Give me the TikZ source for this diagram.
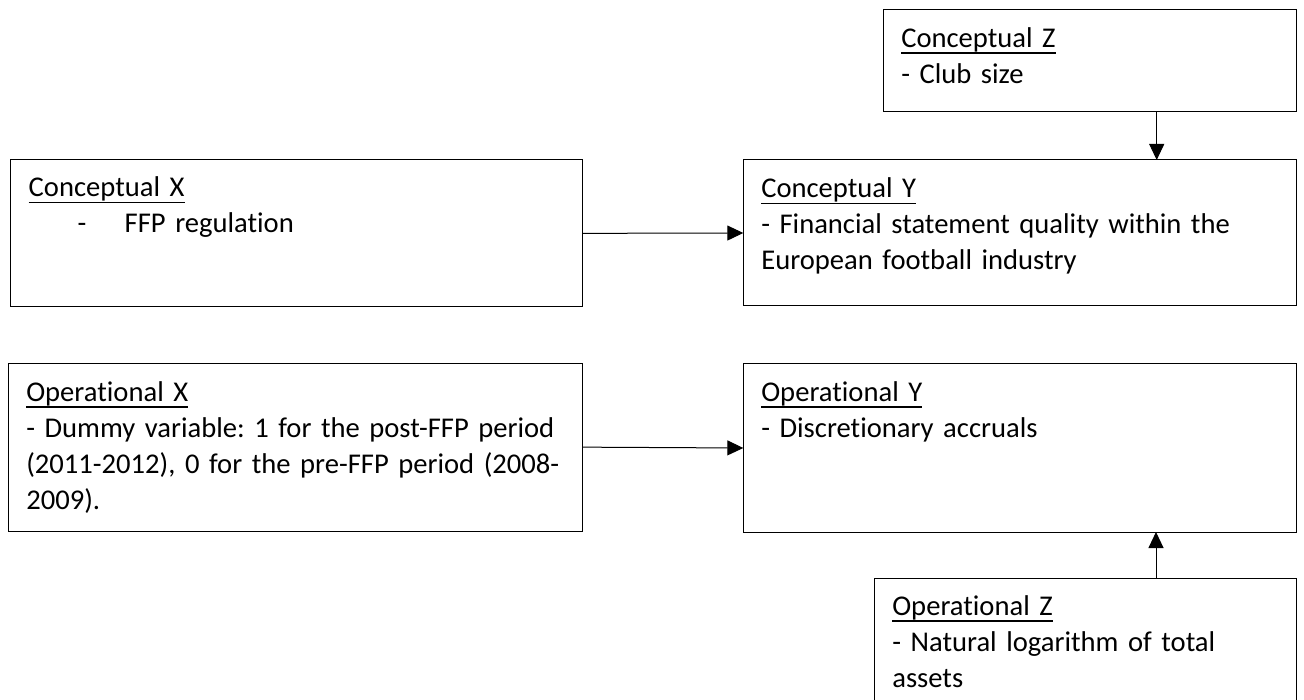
\documentclass[tikz,border=0pt]{standalone}
\usepackage{fontspec}
\setmainfont{Carlito}[Ligatures={NoCommon}]
\usetikzlibrary{arrows.meta,calc}
\frenchspacing
\newcommand\myul[1]{\setbox0\hbox{#1}\rlap{\rule[-6.5pt]{\wd0}{1.5pt}}\box0}
\tikzset{
  box/.style={draw=black, line width=1pt, inner sep=0pt, outer sep=0pt, anchor=north west, rectangle},
  txt/.style={anchor=base west, inner sep=0pt, outer sep=0pt, align=left, font=\fontsize{28.6}{36}\selectfont\frenchspacing},
  arr/.style={-{Triangle[length=16pt,width=15pt]}, line width=1pt, draw=black}
}
\begin{document}
\begin{tikzpicture}[x=1pt,y=-1pt]
\useasboundingbox (0,0) rectangle (1304,700);
\clip (0,0) rectangle (1304,700);
% boxes
\node[box, minimum width=413.4pt, minimum height=102.4pt] (cz) at (883.3,9.3) {};
\node[box, minimum width=572pt, minimum height=146.7pt] (cx) at (10.7,160) {};
\node[box, minimum width=553.4pt, minimum height=146pt] (cy) at (743.3,160) {};
\node[box, minimum width=574.4pt, minimum height=167.7pt] (ox) at (8.3,363.3) {};
\node[box, minimum width=553.4pt, minimum height=168pt] (oy) at (743.3,364) {};
\node[box, minimum width=422.4pt, minimum height=150pt] (oz) at (874.3,578.3) {};
% texts
\node[txt, text width=390pt] (czt) at ($(cz.north west)+(18,38)$) {\myul{Conceptual Z}\\- Club size};
\node[txt, text width=540pt] (cxt) at ($(cx.north west)+(18,37)$) {\myul{Conceptual X}\\\makebox[96pt][l]{\hspace*{49pt}-}FFP regulation};
\node[txt, text width=530pt] (cyt) at ($(cy.north west)+(18,38)$) {\myul{Conceptual Y}\\- Financial statement quality within the\\European football industry};
\node[txt, text width=550pt] (oxt) at ($(ox.north west)+(18,38)$) {\myul{Operational X}\\- Dummy variable: 1 for the post-FFP period\\(2011-2012), 0 for the pre-FFP period (2008-\\2009).};
\node[txt, text width=530pt] (oyt) at ($(oy.north west)+(18,37.5)$) {\myul{Operational Y}\\- Discretionary accruals};
\node[txt, text width=400pt] (ozt) at ($(oz.north west)+(18,37)$) {\myul{Operational Z}\\- Natural logarithm of total\\assets};
% connectors
\coordinate (zc) at (1156.7,0);
\coordinate (zo) at (1156,0);
\draw[arr] (cx.east) -- (cy.west);
\draw[arr] (ox.east) -- (oy.west);
\draw[arr] (cz.south -| zc) -- (cy.north -| zc);
\draw[arr] (oz.north -| zo) -- (oy.south -| zo);
\end{tikzpicture}
\end{document}
